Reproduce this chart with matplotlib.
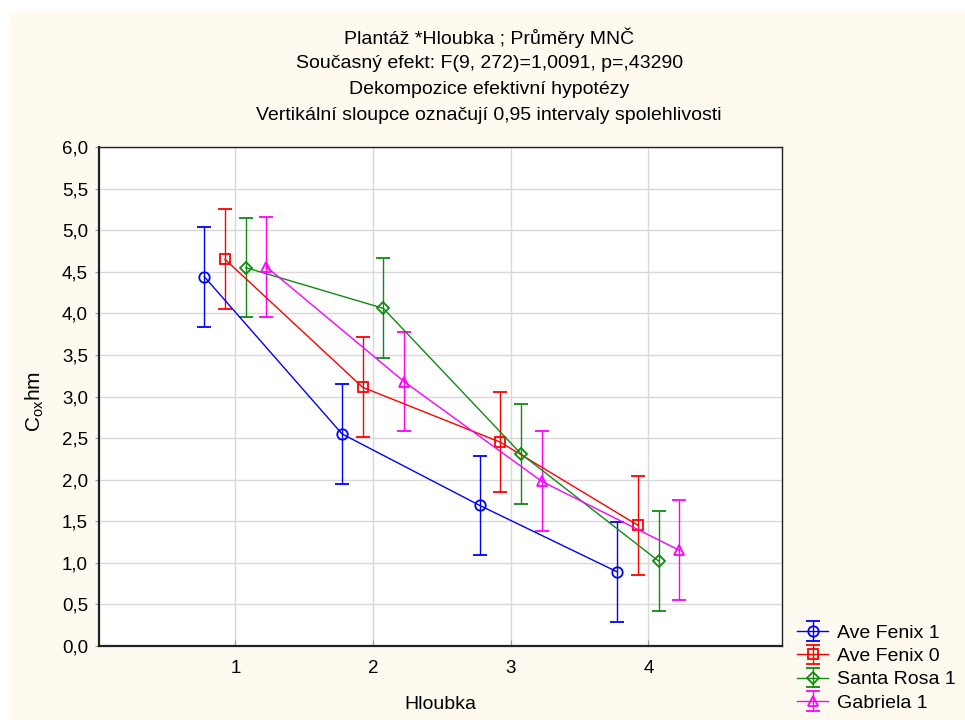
import matplotlib
matplotlib.use("Agg")
import matplotlib.pyplot as plt
from matplotlib.patches import Rectangle
import numpy as np

plt.rcParams["font.family"] = ["Liberation Sans", "DejaVu Sans"]
plt.rcParams["mathtext.fontset"] = "custom"
plt.rcParams["mathtext.rm"] = "Liberation Sans"
plt.rcParams["mathtext.it"] = "Liberation Sans"

# data
depth = [1, 2, 3, 4]
series = ["Ave Fenix 1", "Ave Fenix 0", "Santa Rosa 1", "Gabriela 1"]
ave_fenix_1 = [4.44, 2.55, 1.69, 0.89]
ave_fenix_0 = [4.65, 3.11, 2.45, 1.45]
santa_rosa_1 = [4.55, 4.06, 2.31, 1.02]
gabriela_1 = [4.56, 3.18, 1.98, 1.15]
ci_half = [0.6, 0.6, 0.6, 0.6]
y_ticks = [0.0, 0.5, 1.0, 1.5, 2.0, 2.5, 3.0, 3.5, 4.0, 4.5, 5.0, 5.5, 6.0]

title_lines = [
    "Plantáž *Hloubka ; Průměry MNČ",
    "Současný efekt: F(9, 272)=1,0091, p=,43290",
    "Dekompozice efektivní hypotézy",
    "Vertikální sloupce označují 0,95 intervaly spolehlivosti",
]

values = [ave_fenix_1, ave_fenix_0, santa_rosa_1, gabriela_1]
colors = ["#0000FF", "#FF0000", "#108A10", "#FF00FF"]
markers = ["o", "s", "D", "^"]
msizes = [7.5, 7.5, 6, 7.5]
offsets = [-0.225, -0.075, 0.075, 0.225]

fig = plt.figure(figsize=(9.65, 7.2), dpi=100, facecolor="white")
fig.patches.append(Rectangle((9 / 965, 0), 1, (720 - 12) / 720,
                             transform=fig.transFigure, facecolor="#FFFAF0",
                             edgecolor="none", zorder=-10))

ax = fig.add_axes([99 / 965, 74 / 720, 683 / 965, 499 / 720])
ax.set_facecolor("white")

x = np.array(depth, dtype=float)
for name, vals, c, m, ms, off in zip(series, values, colors, markers, msizes, offsets):
    ax.errorbar(x + off, vals, yerr=ci_half, color=c, marker=m, markersize=ms,
                markerfacecolor="none", markeredgewidth=1.3, linewidth=1.0,
                elinewidth=1.0, capsize=5, capthick=1.0, label=name, zorder=3)

ax.set_xlim(0.01, 4.97)
ax.set_ylim(0, 6)
ax.set_xticks(depth)
ax.set_xticklabels([str(d) for d in depth])
ax.set_yticks(y_ticks)
ax.set_yticklabels([f"{v:.1f}".replace(".", ",") for v in y_ticks])
ax.grid(True, color="#D8D8D8", linewidth=1.0, zorder=0)
ax.set_axisbelow(True)
ax.tick_params(axis="y", direction="out", length=3, labelsize=13.5, color="#999999", pad=5)
ax.tick_params(axis="x", direction="in", length=4, labelsize=13.5, color="#999999", pad=10)
for side in ["left", "bottom"]:
    ax.spines[side].set_linewidth(1.6)
    ax.spines[side].set_color("#222222")
for side in ["top", "right"]:
    ax.spines[side].set_linewidth(1.0)
    ax.spines[side].set_color("#222222")

ax.set_xlabel("Hloubka", fontsize=14, labelpad=14)
ax.set_ylabel(r"C$_{\mathrm{ox}}$hm", fontsize=15)
ax.yaxis.set_label_coords(-0.078, 0.49)

for i, line in enumerate(title_lines):
    fig.text(0.507, 1 - (38 + i * 26) / 720, line, ha="center", va="center", fontsize=14)

ax.legend(loc="upper left", bbox_to_anchor=(797 / 965, 1 - 624 / 720),
          bbox_transform=fig.transFigure, frameon=False, fontsize=14,
          handlelength=1.6, handletextpad=0.45, labelspacing=0.3,
          borderaxespad=0, borderpad=0)

fig.savefig("out.png", dpi=100, facecolor=fig.get_facecolor())
